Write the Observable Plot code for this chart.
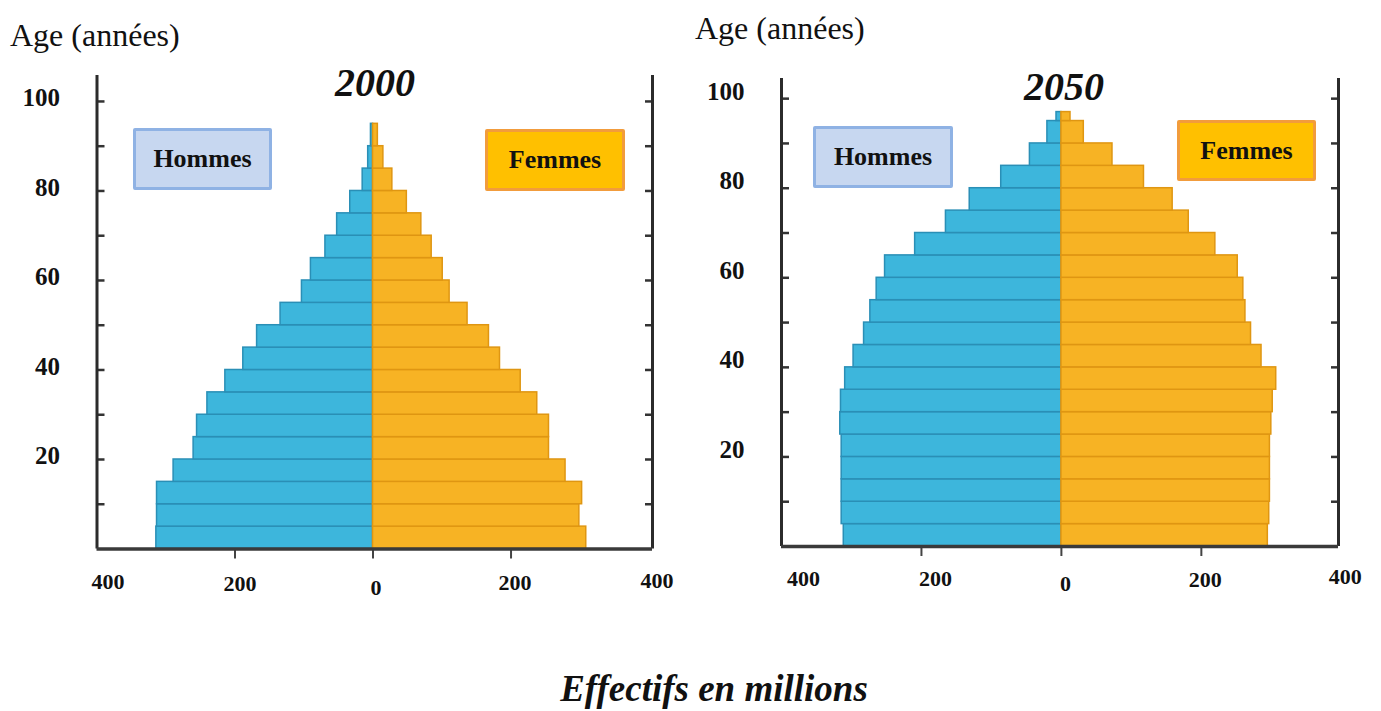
<!DOCTYPE html>
<html><head><meta charset="utf-8">
<script src="https://cdn.jsdelivr.net/npm/d3@7"></script>
<script src="https://cdn.jsdelivr.net/npm/@observablehq/plot@0.6"></script>
<style>
body{margin:0;background:#fff;}
#wrap{position:relative;width:1381px;height:711px;overflow:hidden;font-family:"Liberation Serif","Times New Roman",serif;color:#111;}
.p{position:absolute;top:0;}
.lbl{position:absolute;white-space:nowrap;line-height:1;}
.box{position:absolute;box-sizing:border-box;display:flex;align-items:center;justify-content:center;font-weight:bold;font-size:26px;border-width:3px;border-style:solid;border-radius:2px;}
.title{font-weight:bold;font-style:italic;font-size:40px;transform:translateX(-50%);}
.age{font-size:32px;}
</style></head><body><div id="wrap"></div>
<script>
// ---------- data (millions) ----------
const ages2000  = [0,5,10,15,20,25,30,35,40,45,50,55,60,65,70,75,80,85,90];
const men2000   = [314,313,313,289,260,255,240,214,188,168,134,103,90,69,52,33,15,7,3];
const women2000 = [309,299,303,279,255,255,238,214,184,168,137,111,101,85,70,49,28,15,7];

const ages2050  = [0,5,10,15,20,25,30,35,40,45,50,55,60,65,70,75,80,85,90,95];
const men2050   = [311,314,314,314,314,316,315,309,297,282,273,264,252,209,165,131,86,45,20,7];
const women2050 = [295,297,298,298,298,300,302,307,286,271,263,260,252,220,182,159,118,73,32,13];

const yTickLabels = [20,40,60,80,100];
const yMinorTicks = [10,20,30,40,50,60,70,80,90,100];
const xTickLabels = [-400,-200,0,200,400];
const xAxisTicks  = [-200,0,200];

const BLUE = "#3db6dc", BLUE_EDGE = "#2a8fb6";
const ORANGE = "#f7b324", ORANGE_EDGE = "#df9612";

function pyramid(cfg){
  const rows = cfg.ages.map((a,i)=>({
    a, top: i === cfg.ages.length-1 && cfg.lastTop ? cfg.lastTop : a+5,
    men: cfg.men[i], women: cfg.women[i]
  }));
  const labelMarks = xTickLabels.map((t,i)=>Plot.axisX([t], {
    label: null, tickSize:0, tickPadding: cfg.xLabelPad[i], dx: cfg.xLabelDx[i],
    tickFormat: d=>Math.abs(d), fontSize: 22, fontWeight:"bold", fill:"#111"
  }));
  return Plot.plot({
    width: cfg.width, height: 711,
    marginLeft: cfg.ml, marginRight: cfg.mr, marginTop: cfg.mt, marginBottom: cfg.mb,
    x: {domain: cfg.xDomain, axis: null, label: null},
    y: {domain: cfg.yDomain, axis: null, label: null},
    style: {fontFamily: "Liberation Serif, Times New Roman, serif", background: "transparent", overflow: "visible"},
    marks: [
      Plot.rect(rows, {x1: 0, x2: d=>-d.men, y1:"a", y2:"top", fill: BLUE, stroke: BLUE_EDGE, strokeWidth: 1.5}),
      Plot.rect(rows, {x1: 0, x2: "women", y1:"a", y2:"top", fill: ORANGE, stroke: ORANGE_EDGE, strokeWidth: 1.5}),
      Plot.axisY({label: null, ticks: yMinorTicks, tickSize: -8, fill: "none", stroke:"#333", strokeWidth: 2.5}),
      Plot.axisY({label: null, ticks: yMinorTicks, anchor:"right", tickSize: -8, fill: "none", stroke:"#333", strokeWidth: 2.5}),
      Plot.axisY({label: null, ticks: yTickLabels, tickSize: 0, tickPadding: 37, dy: cfg.yLabelDy, fontSize: 25, fontWeight: "bold", fill:"#111"}),
      Plot.axisX({label: null, ticks: xAxisTicks, tickSize: 10, fill:"none", stroke:"#444", strokeWidth: 2}),
      ...labelMarks,
      Plot.ruleX([cfg.xDomain[0], cfg.xDomain[1]], {y1: 0, y2: cfg.yDomain[1], stroke:"#2b2b2b", strokeWidth: 3}),
      Plot.ruleY([0], {x1: cfg.xDomain[0], x2: cfg.xDomain[1], stroke:"#3a3a3a", strokeWidth: 3.5})
    ]
  });
}

const wrap = document.getElementById("wrap");
function place(el, x){ el.classList.add("p"); el.style.left = x+"px"; wrap.appendChild(el); }

place(pyramid({
  ages: ages2000, men: men2000, women: women2000,
  width: 690, ml: 96.5, mr: 38, mt: 75, mb: 711-548.5,
  xDomain: [-400, 405], yDomain: [0, 105.8],
  xLabelDx: [11,5,3,4,8], xLabelPad: [24,26,30,25,23], yLabelDy: -3
}), 0);

place(pyramid({
  ages: ages2050, men: men2050, women: women2050, lastTop: 97,
  width: 691, ml: 91, mr: 43, mt: 78, mb: 711-546,
  xDomain: [-400, 396], yDomain: [0, 104.5],
  xLabelDx: [22,14,4,4,4], xLabelPad: [24,24,29,25,22], yLabelDy: -7
}), 690);

function txt(cls, s, x, y, extra){
  const d = document.createElement("div");
  d.className = "lbl " + cls; d.textContent = s;
  d.style.left = x+"px"; d.style.top = y+"px";
  if (extra) Object.assign(d.style, extra);
  wrap.appendChild(d); return d;
}
function box(s, x, y, w, h, fill, border){
  const d = document.createElement("div");
  d.className = "box"; d.textContent = s;
  Object.assign(d.style, {left:x+"px", top:y+"px", width:w+"px", height:h+"px", background:fill, borderColor:border});
  wrap.appendChild(d);
}

txt("age", "Age (années)", 10, 19);
txt("age", "Age (années)", 695, 12);
txt("title", "2000", 375, 63);
txt("title", "2050", 1064, 67);
box("Hommes", 133, 128, 139, 62, "#c7d7f0", "#8fb2e4");
box("Femmes", 485, 129, 140, 62, "#ffc000", "#f29c3c");
box("Hommes", 813, 126, 140, 62, "#c7d7f0", "#8fb2e4");
box("Femmes", 1177, 120, 139, 61, "#ffc000", "#f29c3c");
txt("title", "Effectifs en millions", 714, 670, {fontSize:"37px"});
</script>
</body></html>
